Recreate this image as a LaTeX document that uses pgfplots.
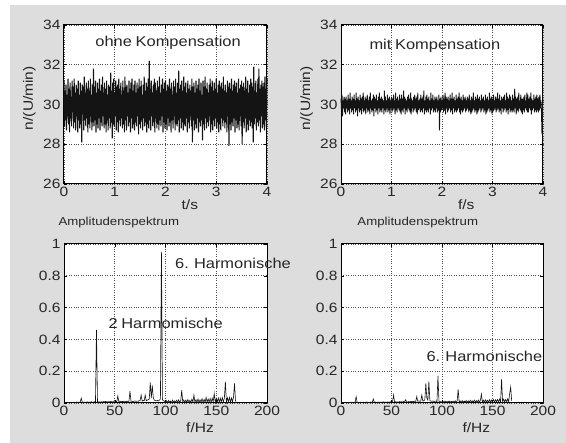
\documentclass[border=0pt]{standalone}
\usepackage{fontspec}
\setmainfont{Liberation Sans}[FakeStretch=1.15, WordSpace=0.8]
\usepackage{pgfplots}
\pgfplotsset{compat=1.18}
\usepackage{pgfplotstable}

\definecolor{bg}{RGB}{220,221,220}
\definecolor{ink}{RGB}{20,20,20}
\newcommand{\tfont}{\fontsize{13.5}{15}\selectfont}
\newcommand{\afont}{\fontsize{14.3}{16}\selectfont}
\newcommand{\sfont}{\fontsize{11.5}{13}\selectfont}

% speed, ohne Kompensation (t = 0 ... 4 s, step 0.01 s)
\pgfplotstableread[row sep=\\,header=false]{
31.2\\ 28.9\\ 30.7\\ 29.2\\ 31.0\\ 28.7\\ 30.5\\ 29.4\\ 31.3\\ 29.0\\
30.8\\ 28.6\\ 31.1\\ 29.3\\ 30.4\\ 28.9\\ 31.2\\ 29.6\\ 30.9\\ 28.8\\
31.3\\ 29.1\\ 30.6\\ 28.7\\ 31.0\\ 29.4\\ 30.8\\ 28.6\\ 31.2\\ 29.2\\
30.5\\ 28.8\\ 31.1\\ 29.0\\ 30.7\\ 28.1\\ 31.0\\ 29.5\\ 30.9\\ 28.7\\
31.4\\ 29.2\\ 30.6\\ 28.9\\ 31.1\\ 29.3\\ 30.8\\ 28.6\\ 31.2\\ 29.0\\
30.7\\ 28.8\\ 31.3\\ 29.4\\ 30.5\\ 28.7\\ 31.0\\ 29.1\\ 31.8\\ 28.9\\
30.9\\ 29.2\\ 31.2\\ 28.6\\ 30.6\\ 29.0\\ 31.1\\ 28.8\\ 30.8\\ 29.3\\
31.3\\ 28.7\\ 30.7\\ 29.1\\ 31.0\\ 28.9\\ 31.4\\ 29.4\\ 30.6\\ 28.8\\
31.1\\ 29.0\\ 30.8\\ 28.6\\ 31.2\\ 29.2\\ 30.5\\ 28.7\\ 31.0\\ 29.3\\
30.9\\ 28.8\\ 31.6\\ 29.1\\ 30.7\\ 28.3\\ 31.1\\ 29.0\\ 31.3\\ 28.9\\
30.6\\ 29.4\\ 31.2\\ 28.7\\ 30.9\\ 29.1\\ 31.0\\ 28.6\\ 31.3\\ 29.2\\
30.8\\ 28.9\\ 31.1\\ 29.3\\ 30.5\\ 28.8\\ 31.2\\ 29.0\\ 30.7\\ 28.6\\
31.4\\ 29.2\\ 30.9\\ 28.7\\ 31.0\\ 29.4\\ 30.6\\ 28.9\\ 31.2\\ 29.1\\
30.8\\ 28.6\\ 31.1\\ 29.3\\ 31.3\\ 28.8\\ 30.7\\ 29.0\\ 31.0\\ 28.7\\
31.2\\ 29.1\\ 30.6\\ 28.9\\ 31.1\\ 29.4\\ 30.8\\ 28.5\\ 31.3\\ 29.0\\
30.9\\ 28.8\\ 31.2\\ 29.2\\ 30.5\\ 28.7\\ 31.0\\ 29.3\\ 31.4\\ 28.9\\
30.7\\ 29.1\\ 31.1\\ 28.6\\ 30.9\\ 29.0\\ 31.3\\ 28.8\\ 32.2\\ 29.2\\
30.8\\ 28.7\\ 31.2\\ 29.4\\ 30.6\\ 28.9\\ 31.0\\ 29.1\\ 31.3\\ 28.6\\
31.1\\ 29.3\\ 30.7\\ 28.8\\ 31.2\\ 29.0\\ 30.9\\ 28.7\\ 31.4\\ 29.2\\
30.6\\ 28.9\\ 31.0\\ 29.4\\ 31.3\\ 28.6\\ 30.8\\ 29.1\\ 31.1\\ 28.8\\
31.2\\ 29.0\\ 30.7\\ 28.7\\ 31.0\\ 29.3\\ 30.9\\ 28.9\\ 31.3\\ 29.1\\
30.8\\ 28.6\\ 31.1\\ 29.2\\ 30.5\\ 28.8\\ 31.2\\ 29.4\\ 30.9\\ 28.7\\
31.3\\ 29.0\\ 30.6\\ 28.9\\ 31.1\\ 29.2\\ 31.7\\ 28.6\\ 30.8\\ 29.3\\
31.0\\ 28.8\\ 31.2\\ 29.1\\ 30.7\\ 28.7\\ 31.4\\ 29.0\\ 30.9\\ 28.9\\
31.1\\ 29.3\\ 30.6\\ 28.6\\ 31.2\\ 29.1\\ 30.8\\ 28.8\\ 31.0\\ 29.4\\
30.7\\ 28.9\\ 31.3\\ 28.1\\ 30.9\\ 29.2\\ 31.1\\ 28.7\\ 30.6\\ 29.0\\
31.2\\ 28.8\\ 30.8\\ 29.3\\ 31.0\\ 28.6\\ 31.3\\ 29.1\\ 30.7\\ 28.9\\
31.1\\ 29.2\\ 30.5\\ 28.2\\ 31.2\\ 29.0\\ 30.9\\ 28.7\\ 31.4\\ 29.3\\
30.8\\ 28.8\\ 31.1\\ 29.1\\ 30.6\\ 28.9\\ 31.0\\ 29.4\\ 31.3\\ 28.6\\
30.9\\ 29.0\\ 31.2\\ 28.7\\ 30.7\\ 29.2\\ 31.1\\ 28.9\\ 30.8\\ 29.3\\
31.3\\ 28.8\\ 30.6\\ 29.1\\ 31.0\\ 28.6\\ 31.2\\ 29.0\\ 30.9\\ 28.7\\
31.1\\ 29.3\\ 30.8\\ 28.9\\ 31.4\\ 29.2\\ 30.7\\ 28.8\\ 31.0\\ 29.1\\
30.6\\ 28.6\\ 31.2\\ 29.4\\ 30.9\\ 27.9\\ 31.1\\ 29.0\\ 30.8\\ 28.7\\
31.3\\ 29.1\\ 30.7\\ 28.9\\ 31.0\\ 29.3\\ 31.2\\ 28.6\\ 30.9\\ 29.2\\
31.1\\ 28.8\\ 30.6\\ 29.0\\ 31.3\\ 28.7\\ 30.8\\ 29.4\\ 31.0\\ 28.9\\
31.2\\ 28.0\\ 30.9\\ 29.1\\ 31.1\\ 28.8\\ 30.7\\ 29.3\\ 31.4\\ 28.6\\
30.8\\ 29.0\\ 31.2\\ 28.7\\ 30.6\\ 29.2\\ 31.0\\ 28.9\\ 31.3\\ 29.1\\
31.1\\ 28.8\\ 30.9\\ 28.1\\ 31.9\\ 29.0\\ 30.7\\ 29.3\\ 31.2\\ 28.7\\
30.6\\ 29.1\\ 31.3\\ 28.9\\ 31.8\\ 29.2\\ 30.8\\ 28.6\\ 31.0\\ 29.4\\
31.2\\ 28.8\\ 30.9\\ 29.0\\ 31.1\\ 28.7\\ 31.4\\ 29.2\\ 30.8\\ 28.9\\
31.3\\
}\ohne

% speed, mit Kompensation
\pgfplotstableread[row sep=\\,header=false]{
30.3\\ 29.7\\ 30.5\\ 29.4\\ 30.2\\ 29.8\\ 30.4\\ 29.6\\ 30.3\\ 29.5\\
30.4\\ 29.8\\ 30.2\\ 29.6\\ 30.5\\ 29.7\\ 30.3\\ 29.5\\ 30.6\\ 29.8\\
30.2\\ 29.6\\ 30.4\\ 29.7\\ 30.3\\ 29.5\\ 30.5\\ 29.8\\ 30.2\\ 29.6\\
30.6\\ 29.7\\ 30.3\\ 29.4\\ 30.4\\ 29.8\\ 30.2\\ 29.6\\ 30.5\\ 29.7\\
30.3\\ 29.5\\ 30.4\\ 29.8\\ 30.6\\ 29.6\\ 30.2\\ 29.7\\ 30.4\\ 29.5\\
30.3\\ 29.8\\ 30.5\\ 29.6\\ 30.2\\ 29.7\\ 30.4\\ 29.5\\ 30.6\\ 29.8\\
30.2\\ 29.6\\ 30.3\\ 29.7\\ 30.5\\ 29.4\\ 30.4\\ 29.8\\ 30.3\\ 29.6\\
30.5\\ 29.7\\ 30.2\\ 29.5\\ 30.4\\ 29.8\\ 30.6\\ 29.6\\ 30.3\\ 29.7\\
30.4\\ 29.6\\ 30.3\\ 29.8\\ 30.2\\ 29.5\\ 30.7\\ 29.7\\ 30.4\\ 29.6\\
30.2\\ 29.8\\ 30.5\\ 29.6\\ 30.3\\ 29.7\\ 30.4\\ 29.5\\ 30.2\\ 29.8\\
30.4\\ 29.6\\ 30.3\\ 29.7\\ 30.5\\ 29.8\\ 30.2\\ 29.5\\ 30.6\\ 29.7\\
30.3\\ 29.6\\ 30.4\\ 29.8\\ 30.2\\ 29.7\\ 30.5\\ 29.6\\ 30.3\\ 29.5\\
30.5\\ 29.7\\ 30.3\\ 29.6\\ 30.7\\ 29.8\\ 30.4\\ 29.5\\ 30.3\\ 29.7\\
30.2\\ 29.6\\ 30.4\\ 29.8\\ 30.5\\ 29.7\\ 30.3\\ 29.6\\ 30.6\\ 29.5\\
30.3\\ 29.8\\ 30.2\\ 29.6\\ 30.4\\ 29.7\\ 30.5\\ 29.8\\ 30.3\\ 29.6\\
30.4\\ 29.5\\ 30.6\\ 29.7\\ 30.2\\ 29.8\\ 30.3\\ 29.6\\ 30.5\\ 29.7\\
30.3\\ 29.6\\ 30.4\\ 29.8\\ 30.7\\ 29.5\\ 30.2\\ 29.7\\ 30.4\\ 29.6\\
30.5\\ 29.7\\ 30.3\\ 29.6\\ 30.4\\ 29.8\\ 30.2\\ 29.5\\ 30.6\\ 29.7\\
30.3\\ 29.8\\ 30.5\\ 29.6\\ 30.2\\ 29.7\\ 30.4\\ 29.6\\ 30.3\\ 29.8\\
30.4\\ 29.6\\ 30.2\\ 29.7\\ 30.5\\ 28.7\\ 30.3\\ 29.6\\ 30.4\\ 29.7\\
30.2\\ 29.8\\ 30.5\\ 29.6\\ 30.3\\ 29.7\\ 30.6\\ 29.5\\ 30.4\\ 29.8\\
30.3\\ 29.6\\ 30.4\\ 29.7\\ 30.2\\ 29.8\\ 30.5\\ 29.6\\ 30.3\\ 29.7\\
30.6\\ 29.5\\ 30.3\\ 29.8\\ 30.4\\ 29.6\\ 30.2\\ 29.7\\ 30.5\\ 29.6\\
30.3\\ 29.7\\ 30.4\\ 29.8\\ 30.6\\ 29.6\\ 30.3\\ 29.5\\ 30.4\\ 29.7\\
30.2\\ 29.6\\ 30.5\\ 29.7\\ 30.3\\ 29.8\\ 30.4\\ 29.6\\ 30.2\\ 29.7\\
30.4\\ 29.8\\ 30.3\\ 29.6\\ 30.5\\ 29.7\\ 30.2\\ 29.5\\ 30.4\\ 29.6\\
30.3\\ 29.7\\ 30.6\\ 29.8\\ 30.2\\ 29.6\\ 30.4\\ 29.7\\ 30.3\\ 29.5\\
30.5\\ 29.6\\ 30.3\\ 29.7\\ 30.4\\ 29.8\\ 30.2\\ 29.6\\ 30.5\\ 29.7\\
30.3\\ 29.8\\ 30.4\\ 29.6\\ 30.2\\ 29.7\\ 30.5\\ 29.5\\ 30.3\\ 29.6\\
30.4\\ 29.7\\ 30.2\\ 29.8\\ 30.6\\ 29.6\\ 30.3\\ 29.7\\ 30.4\\ 29.5\\
30.3\\ 29.6\\ 30.5\\ 29.7\\ 30.2\\ 29.8\\ 30.4\\ 29.6\\ 30.3\\ 29.7\\
30.6\\ 29.8\\ 30.3\\ 29.6\\ 30.5\\ 29.7\\ 30.2\\ 29.5\\ 30.4\\ 29.8\\
30.3\\ 29.6\\ 30.4\\ 29.7\\ 30.5\\ 29.8\\ 30.2\\ 29.6\\ 30.6\\ 29.7\\
30.4\\ 29.5\\ 30.3\\ 29.8\\ 30.5\\ 29.6\\ 30.4\\ 29.7\\ 30.2\\ 29.6\\
30.5\\ 29.7\\ 30.3\\ 29.6\\ 30.8\\ 29.8\\ 30.4\\ 29.5\\ 30.3\\ 29.7\\
30.4\\ 29.6\\ 30.6\\ 29.8\\ 30.2\\ 29.7\\ 30.5\\ 29.6\\ 30.3\\ 29.5\\
30.3\\ 29.7\\ 30.4\\ 29.6\\ 30.5\\ 29.8\\ 30.2\\ 29.7\\ 30.6\\ 29.6\\
30.5\\ 29.6\\ 30.3\\ 29.8\\ 30.4\\ 29.7\\ 30.6\\ 29.5\\ 30.3\\ 29.7\\
30.2\\ 29.8\\ 30.5\\ 29.6\\ 30.3\\ 29.7\\ 30.4\\ 29.6\\ 30.5\\ 29.7\\
30.3\\ 29.6\\ 30.4\\ 29.7\\ 30.5\\ 29.8\\ 30.2\\ 29.6\\ 28.5\\ 29.9\\
30.3\\
}\mit

% amplitude spectrum, ohne Kompensation (f = 0 ... 169 Hz, step 1 Hz)
\pgfplotstableread[row sep=\\,header=false]{
0.002\\ 0.004\\ 0.003\\ 0.005\\ 0.002\\ 0.004\\ 0.003\\ 0.006\\ 0.003\\ 0.004\\
0.005\\ 0.003\\ 0.006\\ 0.004\\ 0.005\\ 0.004\\ 0.007\\ 0.030\\ 0.005\\ 0.004\\
0.006\\ 0.004\\ 0.005\\ 0.007\\ 0.004\\ 0.006\\ 0.005\\ 0.008\\ 0.005\\ 0.006\\
0.007\\ 0.009\\ 0.460\\ 0.008\\ 0.006\\ 0.007\\ 0.005\\ 0.008\\ 0.006\\ 0.009\\
0.007\\ 0.010\\ 0.006\\ 0.008\\ 0.009\\ 0.007\\ 0.010\\ 0.008\\ 0.006\\ 0.009\\
0.008\\ 0.011\\ 0.007\\ 0.044\\ 0.009\\ 0.012\\ 0.008\\ 0.010\\ 0.009\\ 0.011\\
0.010\\ 0.008\\ 0.012\\ 0.009\\ 0.011\\ 0.075\\ 0.010\\ 0.012\\ 0.009\\ 0.011\\
0.013\\ 0.010\\ 0.012\\ 0.011\\ 0.014\\ 0.015\\ 0.050\\ 0.012\\ 0.016\\ 0.013\\
0.050\\ 0.014\\ 0.018\\ 0.020\\ 0.025\\ 0.130\\ 0.030\\ 0.110\\ 0.030\\ 0.018\\
0.015\\ 0.013\\ 0.016\\ 0.012\\ 0.018\\ 0.025\\ 0.950\\ 0.022\\ 0.014\\ 0.012\\
0.004\\ 0.014\\ 0.003\\ 0.016\\ 0.005\\ 0.012\\ 0.003\\ 0.018\\ 0.004\\ 0.013\\
0.005\\ 0.017\\ 0.004\\ 0.020\\ 0.003\\ 0.015\\ 0.080\\ 0.004\\ 0.019\\ 0.005\\
0.018\\ 0.004\\ 0.022\\ 0.005\\ 0.017\\ 0.003\\ 0.024\\ 0.006\\ 0.050\\ 0.004\\
0.021\\ 0.005\\ 0.025\\ 0.004\\ 0.020\\ 0.006\\ 0.027\\ 0.005\\ 0.023\\ 0.004\\
0.035\\ 0.006\\ 0.026\\ 0.005\\ 0.028\\ 0.004\\ 0.030\\ 0.007\\ 0.060\\ 0.005\\
0.029\\ 0.006\\ 0.032\\ 0.005\\ 0.030\\ 0.007\\ 0.034\\ 0.006\\ 0.031\\ 0.134\\
0.005\\ 0.033\\ 0.007\\ 0.035\\ 0.006\\ 0.032\\ 0.008\\ 0.036\\ 0.124\\ 0.010\\
}\specohne

% amplitude spectrum, mit Kompensation
\pgfplotstableread[row sep=\\,header=false]{
0.002\\ 0.003\\ 0.002\\ 0.004\\ 0.003\\ 0.002\\ 0.004\\ 0.003\\ 0.002\\ 0.004\\
0.003\\ 0.005\\ 0.003\\ 0.004\\ 0.006\\ 0.040\\ 0.003\\ 0.004\\ 0.003\\ 0.005\\
0.004\\ 0.003\\ 0.005\\ 0.004\\ 0.003\\ 0.006\\ 0.004\\ 0.005\\ 0.003\\ 0.006\\
0.004\\ 0.005\\ 0.025\\ 0.004\\ 0.006\\ 0.005\\ 0.003\\ 0.006\\ 0.004\\ 0.005\\
0.006\\ 0.004\\ 0.007\\ 0.005\\ 0.006\\ 0.004\\ 0.007\\ 0.005\\ 0.006\\ 0.008\\
0.005\\ 0.007\\ 0.050\\ 0.006\\ 0.008\\ 0.005\\ 0.007\\ 0.006\\ 0.009\\ 0.007\\
0.008\\ 0.006\\ 0.009\\ 0.007\\ 0.020\\ 0.008\\ 0.006\\ 0.009\\ 0.007\\ 0.010\\
0.008\\ 0.011\\ 0.009\\ 0.012\\ 0.010\\ 0.040\\ 0.011\\ 0.013\\ 0.010\\ 0.014\\
0.050\\ 0.012\\ 0.015\\ 0.020\\ 0.124\\ 0.030\\ 0.018\\ 0.136\\ 0.015\\ 0.012\\
0.010\\ 0.013\\ 0.009\\ 0.011\\ 0.012\\ 0.008\\ 0.170\\ 0.010\\ 0.007\\ 0.009\\
0.004\\ 0.011\\ 0.003\\ 0.012\\ 0.005\\ 0.010\\ 0.004\\ 0.013\\ 0.003\\ 0.011\\
0.005\\ 0.012\\ 0.004\\ 0.014\\ 0.006\\ 0.011\\ 0.086\\ 0.005\\ 0.013\\ 0.004\\
0.015\\ 0.005\\ 0.012\\ 0.006\\ 0.016\\ 0.004\\ 0.013\\ 0.005\\ 0.017\\ 0.006\\
0.014\\ 0.005\\ 0.018\\ 0.006\\ 0.015\\ 0.004\\ 0.019\\ 0.007\\ 0.016\\ 0.055\\
0.006\\ 0.018\\ 0.005\\ 0.020\\ 0.007\\ 0.017\\ 0.006\\ 0.021\\ 0.005\\ 0.019\\
0.007\\ 0.022\\ 0.006\\ 0.020\\ 0.008\\ 0.023\\ 0.006\\ 0.025\\ 0.007\\ 0.150\\
0.006\\ 0.024\\ 0.008\\ 0.022\\ 0.007\\ 0.026\\ 0.009\\ 0.060\\ 0.100\\ 0.012\\
}\specmit

\pgfplotsset{
  mfig/.style={
    scale only axis, anchor=south west, clip=false,
    axis background/.style={fill=white},
    axis line style={line width=1pt, black},
    tick align=inside, major tick length=3pt,
    tick style={black, line width=0.5pt},
    xtick pos=both, ytick pos=both,
    xticklabel pos=left, yticklabel pos=left,
    grid=major, grid style={dotted, black!70, line width=0.6pt},
    ticklabel style={font=\tfont, text=black!85},
    label style={font=\tfont, text=black!85},
    title style={font=\sfont, text=black!85},
    /pgf/number format/assume math mode=true,
  },
  speed/.style={mfig, width=203pt, height=159pt,
    xmin=0, xmax=4, ymin=26, ymax=34,
    xtick={0,1,2,3,4}, ytick={26,28,30,32,34},
    ylabel={n/(U/min)},
    ylabel style={at={(axis description cs:-0.17,0.54)}, anchor=center},
    xlabel style={at={(axis description cs:0.62,-0.13)}, anchor=center},
  },
  spec/.style={mfig, width=203pt, height=159pt,
    xmin=0, xmax=200, ymin=0, ymax=1,
    xtick={0,50,100,150,200}, ytick={0,0.2,0.4,0.6,0.8,1},
    xlabel={f/Hz},
    xlabel style={at={(axis description cs:0.67,-0.154)}, anchor=center},
    title={Amplitudenspektrum},
  },
}

\begin{document}
\begin{tikzpicture}
\fill[white] (0pt,0pt) rectangle (566pt,443pt);
\fill[bg] (10pt,0pt) rectangle (566pt,438pt);

\begin{axis}[speed, at={(64pt,259pt)}, xlabel={t/s}]
\addplot[ink, line width=1.1pt, line join=bevel] table[x expr=\coordindex*0.01, y index=0] {\ohne};
\node[anchor=west, font=\afont, text=black!85] at (axis cs:0.55,33.09) {ohne Kompensation};
\end{axis}

\begin{axis}[speed, at={(341pt,259pt)}, width=202pt, xlabel={f/s}]
\addplot[ink, line width=0.9pt, line join=bevel] table[x expr=\coordindex*0.01, y index=0] {\mit};
\node[anchor=west, font=\afont, text=black!85] at (axis cs:0.495,32.94) {mit Kompensation};
\end{axis}

\begin{axis}[spec, at={(64pt,40pt)},
  title style={at={(axis description cs:0.27,1.10)}, anchor=center}]
\addplot[ink, line width=0.6pt] table[x expr=\coordindex, y index=0] {\specohne};
\node[anchor=west, font=\afont, text=black!85] at (axis cs:106,0.88) {6. Harmonische};
\node[anchor=west, font=\afont, text=black!85] at (axis cs:40.4,0.503) {2 Harmomische};
\end{axis}

\begin{axis}[spec, at={(341pt,40pt)}, width=202pt,
  title style={at={(axis description cs:0.38,1.10)}, anchor=center}]
\addplot[ink, line width=0.6pt] table[x expr=\coordindex, y index=0] {\specmit};
\node[anchor=west, font=\afont, text=black!85] at (axis cs:81.2,0.29) {6. Harmonische};
\end{axis}

\pgfresetboundingbox
\path[use as bounding box] (0pt,0pt) rectangle (566pt,443pt);
\end{tikzpicture}
\end{document}
